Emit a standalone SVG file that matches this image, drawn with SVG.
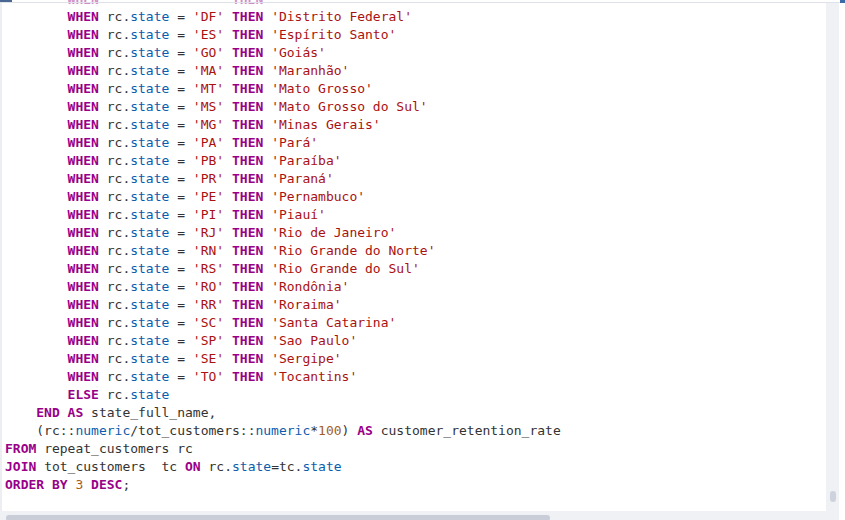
<svg xmlns="http://www.w3.org/2000/svg" width="845" height="520" viewBox="0 0 845 520" xml:space="preserve">
<style>
text{font-family:"DejaVu Sans Mono","Liberation Mono",monospace;font-size:13px;fill:#333333;white-space:pre}
.k{fill:#990088;font-weight:bold}
.s{fill:#aa1111}
.v{fill:#0b5cad}
.n{fill:#a65e1b}
.faint{opacity:0.45}
</style>
<defs>
<clipPath id="top"><rect x="0" y="0" width="845" height="6"/></clipPath>
</defs>
<rect x="0" y="0" width="845" height="520" fill="#ffffff"/>
<g id="frame">
<rect x="0" y="0" width="2" height="520" fill="#eceef2"/>
<rect x="826" y="3" width="13" height="517" fill="#f0f1f4"/>
<rect x="0" y="511" width="839" height="9" fill="#f0f1f4"/>
<rect x="6" y="515" width="544" height="6" rx="3" fill="#c9cdd8"/>
<rect x="830" y="491" width="6" height="11" rx="3" fill="#cdd2dc"/>
</g>
<g id="code">
<g clip-path="url(#top)" class="faint"><text x="67.6" y="3.5"><tspan class="k">WHEN</tspan>                 <tspan class="k">THEN</tspan></text></g>
<text x="67.6" y="21"><tspan class="k">WHEN</tspan> rc.<tspan class="v">state</tspan> = <tspan class="s">'DF'</tspan> <tspan class="k">THEN</tspan> <tspan class="s">'Distrito Federal'</tspan></text>
<text x="67.6" y="39"><tspan class="k">WHEN</tspan> rc.<tspan class="v">state</tspan> = <tspan class="s">'ES'</tspan> <tspan class="k">THEN</tspan> <tspan class="s">'Espírito Santo'</tspan></text>
<text x="67.6" y="57"><tspan class="k">WHEN</tspan> rc.<tspan class="v">state</tspan> = <tspan class="s">'GO'</tspan> <tspan class="k">THEN</tspan> <tspan class="s">'Goiás'</tspan></text>
<text x="67.6" y="75"><tspan class="k">WHEN</tspan> rc.<tspan class="v">state</tspan> = <tspan class="s">'MA'</tspan> <tspan class="k">THEN</tspan> <tspan class="s">'Maranhão'</tspan></text>
<text x="67.6" y="93"><tspan class="k">WHEN</tspan> rc.<tspan class="v">state</tspan> = <tspan class="s">'MT'</tspan> <tspan class="k">THEN</tspan> <tspan class="s">'Mato Grosso'</tspan></text>
<text x="67.6" y="111"><tspan class="k">WHEN</tspan> rc.<tspan class="v">state</tspan> = <tspan class="s">'MS'</tspan> <tspan class="k">THEN</tspan> <tspan class="s">'Mato Grosso do Sul'</tspan></text>
<text x="67.6" y="129"><tspan class="k">WHEN</tspan> rc.<tspan class="v">state</tspan> = <tspan class="s">'MG'</tspan> <tspan class="k">THEN</tspan> <tspan class="s">'Minas Gerais'</tspan></text>
<text x="67.6" y="147"><tspan class="k">WHEN</tspan> rc.<tspan class="v">state</tspan> = <tspan class="s">'PA'</tspan> <tspan class="k">THEN</tspan> <tspan class="s">'Pará'</tspan></text>
<text x="67.6" y="165"><tspan class="k">WHEN</tspan> rc.<tspan class="v">state</tspan> = <tspan class="s">'PB'</tspan> <tspan class="k">THEN</tspan> <tspan class="s">'Paraíba'</tspan></text>
<text x="67.6" y="183"><tspan class="k">WHEN</tspan> rc.<tspan class="v">state</tspan> = <tspan class="s">'PR'</tspan> <tspan class="k">THEN</tspan> <tspan class="s">'Paraná'</tspan></text>
<text x="67.6" y="201"><tspan class="k">WHEN</tspan> rc.<tspan class="v">state</tspan> = <tspan class="s">'PE'</tspan> <tspan class="k">THEN</tspan> <tspan class="s">'Pernambuco'</tspan></text>
<text x="67.6" y="219"><tspan class="k">WHEN</tspan> rc.<tspan class="v">state</tspan> = <tspan class="s">'PI'</tspan> <tspan class="k">THEN</tspan> <tspan class="s">'Piauí'</tspan></text>
<text x="67.6" y="237"><tspan class="k">WHEN</tspan> rc.<tspan class="v">state</tspan> = <tspan class="s">'RJ'</tspan> <tspan class="k">THEN</tspan> <tspan class="s">'Rio de Janeiro'</tspan></text>
<text x="67.6" y="255"><tspan class="k">WHEN</tspan> rc.<tspan class="v">state</tspan> = <tspan class="s">'RN'</tspan> <tspan class="k">THEN</tspan> <tspan class="s">'Rio Grande do Norte'</tspan></text>
<text x="67.6" y="273"><tspan class="k">WHEN</tspan> rc.<tspan class="v">state</tspan> = <tspan class="s">'RS'</tspan> <tspan class="k">THEN</tspan> <tspan class="s">'Rio Grande do Sul'</tspan></text>
<text x="67.6" y="291"><tspan class="k">WHEN</tspan> rc.<tspan class="v">state</tspan> = <tspan class="s">'RO'</tspan> <tspan class="k">THEN</tspan> <tspan class="s">'Rondônia'</tspan></text>
<text x="67.6" y="309"><tspan class="k">WHEN</tspan> rc.<tspan class="v">state</tspan> = <tspan class="s">'RR'</tspan> <tspan class="k">THEN</tspan> <tspan class="s">'Roraima'</tspan></text>
<text x="67.6" y="327"><tspan class="k">WHEN</tspan> rc.<tspan class="v">state</tspan> = <tspan class="s">'SC'</tspan> <tspan class="k">THEN</tspan> <tspan class="s">'Santa Catarina'</tspan></text>
<text x="67.6" y="345"><tspan class="k">WHEN</tspan> rc.<tspan class="v">state</tspan> = <tspan class="s">'SP'</tspan> <tspan class="k">THEN</tspan> <tspan class="s">'Sao Paulo'</tspan></text>
<text x="67.6" y="363"><tspan class="k">WHEN</tspan> rc.<tspan class="v">state</tspan> = <tspan class="s">'SE'</tspan> <tspan class="k">THEN</tspan> <tspan class="s">'Sergipe'</tspan></text>
<text x="67.6" y="381"><tspan class="k">WHEN</tspan> rc.<tspan class="v">state</tspan> = <tspan class="s">'TO'</tspan> <tspan class="k">THEN</tspan> <tspan class="s">'Tocantins'</tspan></text>
<text x="67.6" y="399"><tspan class="k">ELSE</tspan> rc.<tspan class="v">state</tspan></text>
<text x="36.3" y="417"><tspan class="k">END</tspan> <tspan class="k">AS</tspan> state_full_name,</text>
<text x="36.3" y="435">(rc::<tspan class="v">numeric</tspan>/tot_customers::<tspan class="v">numeric</tspan>*<tspan class="n">100</tspan>) <tspan class="k">AS</tspan> customer_retention_rate</text>
<text x="5" y="453"><tspan class="k">FROM</tspan> repeat_customers rc</text>
<text x="5" y="471"><tspan class="k">JOIN</tspan> tot_customers  tc <tspan class="k">ON</tspan> rc.<tspan class="v">state</tspan>=tc.<tspan class="v">state</tspan></text>
<text x="5" y="489"><tspan class="k">ORDER</tspan> <tspan class="k">BY</tspan> <tspan class="n">3</tspan> <tspan class="k">DESC</tspan>;</text>
</g>
<g id="topbar">
<rect x="0" y="2" width="840" height="1" fill="#dfe2e8"/>
<rect x="0" y="0" width="12" height="2" fill="#4a6794"/>
<rect x="840" y="0" width="5" height="3" fill="#3c6aa5"/>
</g>
</svg>
